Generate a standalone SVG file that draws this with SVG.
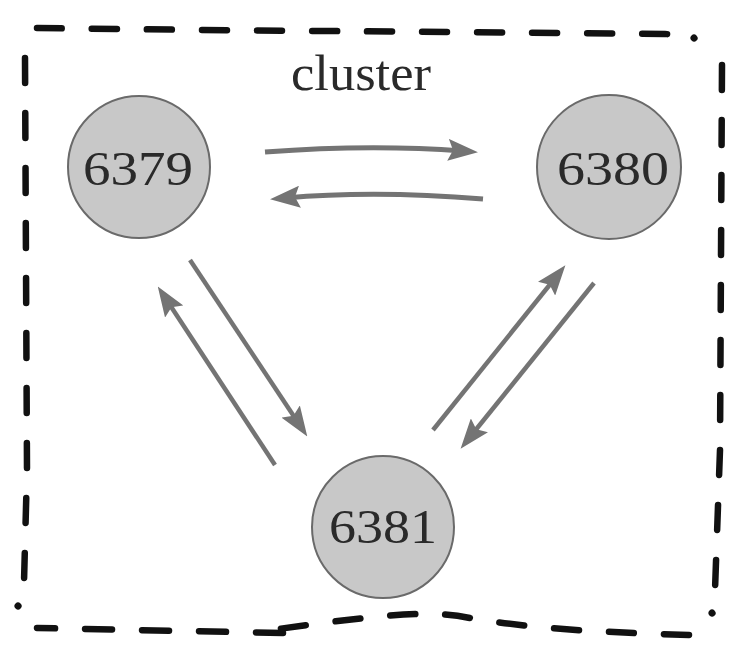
<svg xmlns="http://www.w3.org/2000/svg" width="744" height="652" viewBox="0 0 744 652">
<defs>
<marker id="ah" viewBox="0 0 30 22" markerWidth="30" markerHeight="22" refX="15" refY="11" orient="auto" markerUnits="userSpaceOnUse">
<path d="M0,0 L30,11 L0,22 L5,11 z" fill="#747474"/>
</marker>
<style>
.border{fill:none;stroke:#111;stroke-width:6.5;stroke-linecap:round;stroke-dasharray:25 30}
.dot{fill:none;stroke:#111;stroke-width:7;stroke-linecap:round}
.node circle{fill:#c8c8c8;stroke:#6a6a6a;stroke-width:2}
.node text{font-family:"Liberation Serif",serif;font-size:48px;fill:#2a2a2a;text-anchor:middle}
.edge{fill:none;stroke:#747474;stroke-width:5;marker-end:url(#ah)}
.label{font-family:"Liberation Serif",serif;font-size:50px;fill:#2a2a2a;text-anchor:middle}
</style>
</defs>
<rect width="744" height="652" fill="#fff"/>
<g id="cluster">
<path class="border" d="M37,28 C250,31 500,32 665,34 Q682,35 688,37"/>
<path class="dot" d="M694,38 l0.1,0.1"/>
<path class="border" d="M722,65 L720,450 L715,590"/>
<path class="dot" d="M712,613 l0.1,0.1"/>
<path class="border" d="M689,635 C560,631 520,626 470,618 C440,612 410,612 330,622 L278,629"/>
<path class="border" d="M283,633 L37,628" style="stroke-dasharray:27 30"/>
<path class="dot" d="M18,606 l0.1,0.1"/>
<path class="border" d="M25,58 L27,470 L24,582"/>
<text class="label" x="361" y="90" textLength="140" lengthAdjust="spacingAndGlyphs">cluster</text>
</g>
<g id="connectors">
<path class="edge" d="M265,152 Q370,144 463,151"/>
<path class="edge" d="M483,199 Q375,190 285,198"/>
<path class="edge" d="M190,260 L299,424" style="stroke-width:4.5"/>
<path class="edge" d="M275,465 L166,299" style="stroke-width:4.5"/>
<path class="edge" d="M433,430 L556,277" style="stroke-width:4.5"/>
<path class="edge" d="M594,283 L470,437" style="stroke-width:4.5"/>
</g>
<g id="node-6379" class="node">
<circle cx="139" cy="167" r="71"/>
<text x="138" y="185" textLength="110" lengthAdjust="spacingAndGlyphs">6379</text>
</g>
<g id="node-6380" class="node">
<circle cx="609" cy="167" r="72"/>
<text x="613" y="185" textLength="112" lengthAdjust="spacingAndGlyphs">6380</text>
</g>
<g id="node-6381" class="node">
<circle cx="383" cy="527" r="71"/>
<text x="383" y="543" textLength="108" lengthAdjust="spacingAndGlyphs">6381</text>
</g>
</svg>
